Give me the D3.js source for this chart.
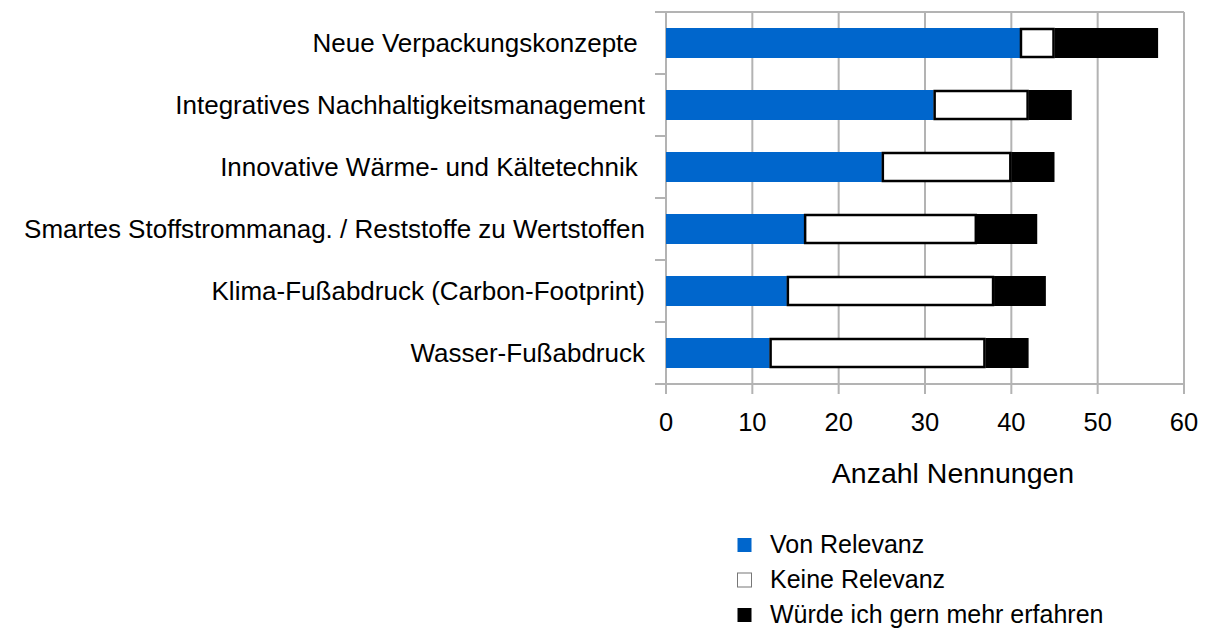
<!DOCTYPE html>
<html>
<head>
<meta charset="utf-8">
<script src="https://cdn.jsdelivr.net/npm/d3@7"></script>
<style>
  body { margin: 0; background: #fff; }
  text { font-family: "Liberation Sans", Arial, sans-serif; fill: #000; white-space: pre; }
</style>
</head>
<body>
<svg id="chart" width="1208" height="635"></svg>
<script>
const categories = [
  "Neue Verpackungskonzepte ",
  "Integratives Nachhaltigkeitsmanagement",
  "Innovative Wärme- und Kältetechnik ",
  "Smartes Stoffstrommanag. / Reststoffe zu Wertstoffen",
  "Klima-Fußabdruck (Carbon-Footprint)",
  "Wasser-Fußabdruck"
];
const vonRelevanz = [41, 31, 25, 16, 14, 12];
const keineRelevanz = [4, 11, 15, 20, 24, 25];
const mehrErfahren = [12, 5, 5, 7, 6, 5];
const seriesNames = ["Von Relevanz", "Keine Relevanz", "Würde ich gern mehr erfahren"];
const xTicks = [0, 10, 20, 30, 40, 50, 60];

const svg = d3.select("#chart");
const area = { left: 666, right: 1184, top: 12, bottom: 384 };
const gridColor = "#b3b3b3";

const x = d3.scaleLinear().domain([0, 60]).range([area.left, area.right]);
const y = d3.scaleBand().domain(categories).range([area.top, area.bottom]);
const bandH = y.bandwidth();
const barH = 30;

const rows = categories.map((c, i) => ({ cat: c, vals: [vonRelevanz[i], keineRelevanz[i], mehrErfahren[i]] }));
const stacked = d3.stack().keys([0, 1, 2]).value((d, k) => d.vals[k])(rows);

// grid lines
svg.append("g").selectAll("line").data(xTicks).join("line")
  .attr("x1", d => x(d)).attr("x2", d => x(d))
  .attr("y1", area.top).attr("y2", area.bottom + 10)
  .attr("stroke", gridColor).attr("stroke-width", 2);

// frame top
svg.append("line").attr("x1", area.left).attr("x2", area.right)
  .attr("y1", area.top).attr("y2", area.top)
  .attr("stroke", gridColor).attr("stroke-width", 2);

// category boundary ticks on left axis
svg.append("g").selectAll("line").data(d3.range(categories.length + 1)).join("line")
  .attr("x1", area.left - 11).attr("x2", area.left)
  .attr("y1", i => area.top + i * bandH).attr("y2", i => area.top + i * bandH)
  .attr("stroke", gridColor).attr("stroke-width", 2);

// bottom axis line
svg.append("line").attr("x1", area.left - 11).attr("x2", area.right)
  .attr("y1", area.bottom).attr("y2", area.bottom)
  .attr("stroke", gridColor).attr("stroke-width", 2);

// bars
const fills = ["#0066cc", "#ffffff", "#000000"];
stacked.forEach((layer, k) => {
  const inset = k === 1 ? 1 : 0;
  svg.append("g").selectAll("rect").data(layer).join("rect")
    .attr("x", d => x(d[0]) + inset)
    .attr("width", d => x(d[1]) - x(d[0]) - 2 * inset)
    .attr("y", d => y(d.data.cat) + bandH / 2 - barH / 2 + inset)
    .attr("height", barH - 2 * inset)
    .attr("fill", fills[k])
    .attr("stroke", k === 1 ? "#000" : "none")
    .attr("stroke-width", 2.5);
});

// category labels
svg.append("g").selectAll("text").data(categories).join("text")
  .attr("x", 645)
  .attr("y", d => y(d) + bandH / 2)
  .attr("dy", "0.35em")
  .attr("text-anchor", "end")
  .attr("font-size", 26)
  .text(d => d);

// x tick labels
svg.append("g").selectAll("text").data(xTicks).join("text")
  .attr("x", d => x(d))
  .attr("y", 431)
  .attr("text-anchor", "middle")
  .attr("font-size", 25.5)
  .text(d => d);

svg.append("text")
  .attr("x", 953)
  .attr("y", 483)
  .attr("text-anchor", "middle")
  .attr("font-size", 28.5)
  .text("Anzahl Nennungen");

// legend
const legend = svg.append("g").selectAll("g").data(seriesNames).join("g")
  .attr("transform", (d, i) => `translate(737, ${545 + i * 35})`);
legend.append("rect")
  .attr("x", 0.5).attr("y", -7).attr("width", 14).attr("height", 14)
  .attr("fill", (d, i) => fills[i])
  .attr("stroke", (d, i) => i === 1 ? "#777" : "none")
  .attr("stroke-width", 1);
legend.append("text")
  .attr("x", 33).attr("y", 8)
  .attr("font-size", 25)
  .text(d => d);
</script>
</body>
</html>
